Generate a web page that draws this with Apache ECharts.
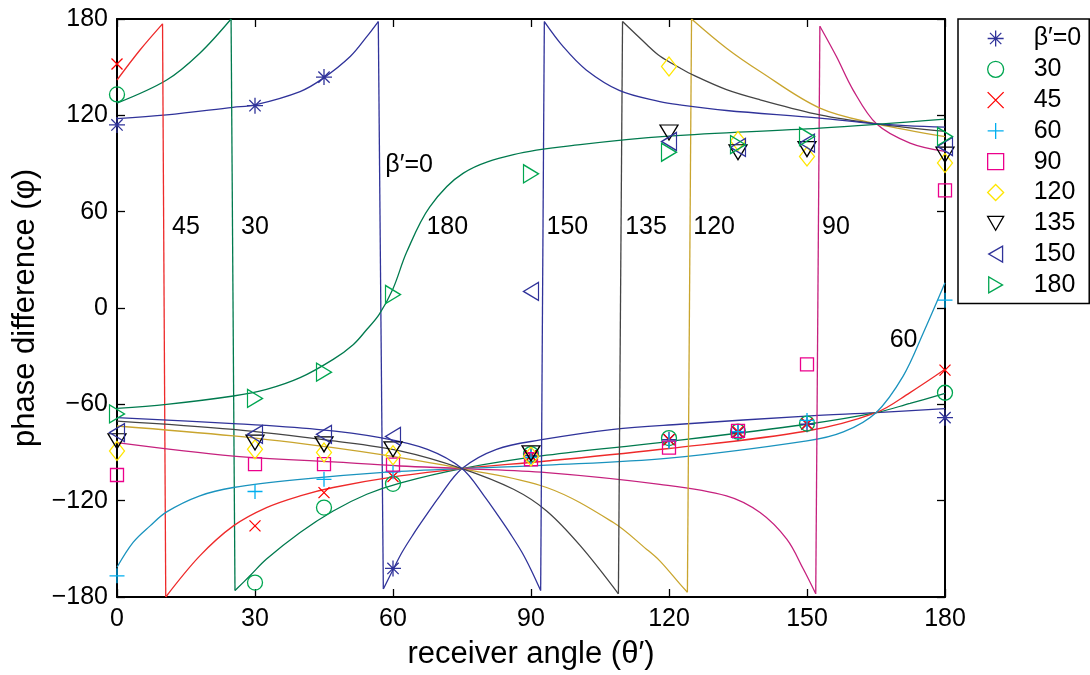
<!DOCTYPE html>
<html><head><meta charset="utf-8">
<script src="https://cdn.jsdelivr.net/npm/echarts@6/dist/echarts.min.js"></script>
<style>html,body{margin:0;padding:0;background:#fff}#c{width:1090px;height:675px}</style>
</head><body><div id="c"></div>
<script>
// ---------- data ----------
const angles = [0, 30, 45, 60, 90, 120, 135, 150, 180];
const betaLabels = ['β′=0', '30', '45', '60', '90', '120', '135', '150', '180'];

// measured phase differences (markers), one value per receiver angle
const meas0   = [114, 126, 143.8, -162.2, -92, -82, -77.6, -72.4, -68.3];
const meas30  = [133, -171, -124.3, -109.5, -91, -81, -77, -72, -52.8];
const meas45  = [152, -135.7, -115, -105, -92, -82, -77, -72, -38.7];
const meas60  = [-166.8, -114.3, -106.7, -102, -93, -83, -77, -70, 4.9];
const meas90  = [-104, -97.3, -97.3, -97.5, -94.2, -87, -76.5, -35.1, 73.3];
const meas120 = [-89, -88, -90, -91.7, -92.5, 150.4, 104, 94.4, 90.3];
const meas135 = [-83, -83.8, -84.9, -88, -90.5, 109.3, 97, 99, 95.5];
const meas150 = [-77.6, -78.7, -78.7, -80, 10.3, 103.7, 100, 102.7, 100.6];
const meas180 = [-66, -56.3, -40, 8.4, 83.6, 97, 101.7, 106.8, 106.8];

// theoretical curves; each curve is a list of branches (phase wraps between branches)
const theory0 = [
  [[0,118],[10.8,120.3],[25.2,125],[30,126.5],[39.8,134.8],[44.8,143],[50.7,156.6],[54.3,169],[56.8,178.4]],
  [[57.9,-175],[60,-163],[62,-152],[64.4,-141],[67,-130],[70.2,-117],[75,-100],[82.5,-88],[92,-82.2],[107.9,-75.6],[122.4,-72.4],[149.9,-67.3],[165,-65.2],[180,-62.7]]
];
const theory30 = [
  [[0,127.6],[10.8,142],[18,158.7],[24.8,180]],
  [[25.65,-176],[28.9,-166.8],[32.5,-156.4],[39.8,-139.8],[47,-126.4],[54.3,-116],[61.5,-109],[75,-100],[93.4,-91.7],[118,-83.8],[150,-72.4],[165,-65.2],[172.4,-59.4],[180,-53.2]]
];
const theory45 = [
  [[0,142],[5,160.7],[9.9,177]],
  [[10.6,-180],[18,-154.4],[25.3,-135.7],[32.5,-124.3],[39.8,-117],[47,-111.8],[61.5,-104.6],[75,-100],[93.4,-95.3],[120,-87.5],[150,-76.6],[165,-65.2],[172.4,-52.7],[180,-38.2]]
];
const theory60 = [
  [[0,-161.5],[3.5,-146],[7.2,-135.7],[10.8,-127],[18,-117],[25.3,-111.8],[39.8,-106.7],[57.2,-102.5],[75,-100],[93.4,-97.9],[120,-93.5],[150,-82.8],[157.9,-77.2],[165,-65.2],[170.9,-42.4],[175.3,-15.4],[180,15.7]]
];
const theory90 = [
  [[0,-83.8],[25.3,-92.2],[47,-95.9],[61.5,-98.4],[75,-100],[93.4,-102.5],[118,-109.8],[132.5,-117],[139.8,-127.4],[145.6,-144],[149.2,-162.6],[151.9,-178]],
  [[152.8,175.5],[156.4,156.6],[160,135.9],[165.1,114.7],[172.4,102.7],[180,97.5]]
];
const theory120 = [
  [[0,-73.5],[25.3,-79.7],[47,-87],[61.5,-93.2],[75,-100],[93.4,-111.8],[107.9,-133.6],[115.1,-150.2],[118,-157.5],[122.4,-172],[124,-177]],
  [[124.9,180],[132.5,161.8],[139.8,147.3],[152.8,124.5],[165.1,114.7],[180,106.8]]
];
const theory135 = [
  [[0,-70.4],[25.3,-75.6],[47,-82.8],[61.5,-89],[75,-100],[86.2,-112.9],[93.4,-126.4],[100.7,-148],[109,-178]],
  [[109.9,178.4],[115.2,164],[118,157],[122.4,149.5],[125.3,145],[132.5,136],[139.8,129.7],[152.8,120.3],[165.1,114.7],[180,110]]
];
const theory150 = [
  [[0,-68.3],[25.3,-72],[43.4,-75.6],[57.2,-80.7],[67.5,-88],[75,-100],[79.8,-117],[83,-130],[85.6,-141],[88,-152],[90,-163],[92.1,-176]],
  [[92.9,178.4],[97,162.8],[102,148.3],[109.3,135.4],[118,128.6],[122.4,126.5],[132.5,123],[152.8,118.3],[165.1,114.7],[180,112.6]]
];
const theory180 = [
  [[0,-62.5],[10.8,-60],[25.3,-54.8],[32.5,-50.7],[39.8,-43.4],[47,-32],[51.4,-22.7],[54.3,-13.4],[57,-4],[60,12],[63,35],[68,63],[75.3,84],[86.2,95.5],[100.7,101.7],[120,107],[152.8,112],[180,117.6]]
];

// in-plot curve labels: [text, x, y]
const curveLabels = [
  ['45', 15, 50.2], ['30', 30, 50.2], ['β′=0', 63.5, 89.2], ['180', 71.8, 50.2],
  ['150', 97.9, 50.2], ['135', 115, 50.2], ['120', 129.8, 50.2], ['90', 156.3, 50.2], ['60', 171, -20]
];

// ---------- styles ----------
const FONT = '"Liberation Sans", Arial, Helvetica, sans-serif';
const measured = [meas0, meas30, meas45, meas60, meas90, meas120, meas135, meas150, meas180];
const theory = [theory0, theory30, theory45, theory60, theory90, theory120, theory135, theory150, theory180];
const lineColors = ['#30339A', '#007A4E', '#EE2A2A', '#1A93BE', '#C6217E', '#C9A52E', '#444444', '#30339A', '#007A4E'];
const markerColors = ['#30339A', '#00A651', '#FF0000', '#00AEEF', '#EC008C', '#FFE600', '#000000', '#30339A', '#00A651'];
const markerSymbols = [
  'path://M5,0L5,10M0,5L10,5M1.46,1.46L8.54,8.54M8.54,1.46L1.46,8.54',
  'circle',
  'path://M0,0L10,10M10,0L0,10',
  'path://M5,0L5,10M0,5L10,5',
  'rect',
  'diamond',
  'path://M0,0L10,0L5,8.66Z',
  'path://M8.66,0L8.66,10L0,5Z',
  'path://M0,0L0,10L8.66,5Z'
];
const markerSizes = [16, 15, 11, 15, 13, [15, 19], [18, 15], [15, 18], [15, 18]];

const series = [];
theory.forEach((branches, i) => {
  branches.forEach(b => {
    series.push({type: 'line', data: b, symbol: 'none', smooth: 0.35,
      lineStyle: {color: lineColors[i], width: 1.3}, silent: true, z: 2});
  });
  for (let k = 0; k + 1 < branches.length; k++) {
    const a = branches[k][branches[k].length - 1], c = branches[k + 1][0];
    series.push({type: 'line', data: [a, c], symbol: 'none',
      lineStyle: {color: lineColors[i], width: 1.3}, silent: true, z: 2});
  }
});
measured.forEach((vals, i) => {
  series.push({type: 'scatter', name: betaLabels[i], data: angles.map((a, j) => [a, vals[j]]),
    symbol: markerSymbols[i], symbolSize: markerSizes[i],
    itemStyle: {color: 'rgba(0,0,0,0)', borderColor: markerColors[i], borderWidth: 1.3, opacity: 1}, z: 3});
});
series.push({type: 'scatter', data: curveLabels.map(l => ({name: l[0], value: [l[1], l[2]]})),
  symbolSize: 1, itemStyle: {color: 'rgba(0,0,0,0)', opacity: 1}, silent: true, z: 4,
  label: {show: true, position: 'inside', formatter: '{b}', color: '#000', opacity: 1, fontSize: 25, fontFamily: FONT}});

const axisCommon = {
  type: 'value', splitLine: {show: false},
  axisLine: {show: true, onZero: false, lineStyle: {color: '#000', width: 2}},
  axisTick: {show: true, inside: true, length: 8, lineStyle: {color: '#000', width: 1.3}}
};

const option = {
  animation: false,
  backgroundColor: '#fff',
  grid: {left: 117, top: 19, width: 828, height: 579},
  xAxis: [
    Object.assign({}, axisCommon, {min: 0, max: 180, interval: 30, position: 'bottom',
      axisLabel: {color: '#000', fontSize: 25, fontFamily: FONT, margin: 10},
      name: 'receiver angle (θ′)', nameLocation: 'middle', nameGap: 42,
      nameTextStyle: {color: '#000', fontSize: 31, fontFamily: FONT}}),
    Object.assign({}, axisCommon, {min: 0, max: 180, interval: 30, position: 'top', axisLabel: {show: false}})
  ],
  yAxis: [
    Object.assign({}, axisCommon, {min: -180, max: 180, interval: 60, position: 'left',
      axisLabel: {color: '#000', fontSize: 25, fontFamily: FONT, margin: 9,
        formatter: v => String(v).replace('-', '\u2212')},
      name: 'phase difference (φ)', nameLocation: 'middle', nameGap: 71,
      nameTextStyle: {color: '#000', fontSize: 31, fontFamily: FONT}}),
    Object.assign({}, axisCommon, {min: -180, max: 180, interval: 60, position: 'right', axisLabel: {show: false}})
  ],
  legend: {
    orient: 'vertical', left: 958, top: 19, selectedMode: false,
    padding: [7, 8, 6, 29], itemWidth: 16, itemHeight: 16, itemGap: 5.8,
    borderColor: '#000', borderWidth: 1.5,
    textStyle: {color: '#000', fontSize: 25, fontFamily: FONT, lineHeight: 25, padding: [0, 0, 0, 25]},
    data: betaLabels.map((n, i) => ({name: n, icon: markerSymbols[i],
      itemStyle: {color: 'rgba(0,0,0,0)', borderColor: markerColors[i], borderWidth: 1.3, opacity: 1}}))
  },
  series: series
};

const chart = echarts.init(document.getElementById('c'), null, {renderer: 'canvas'});
chart.setOption(option);
</script>
</body></html>
